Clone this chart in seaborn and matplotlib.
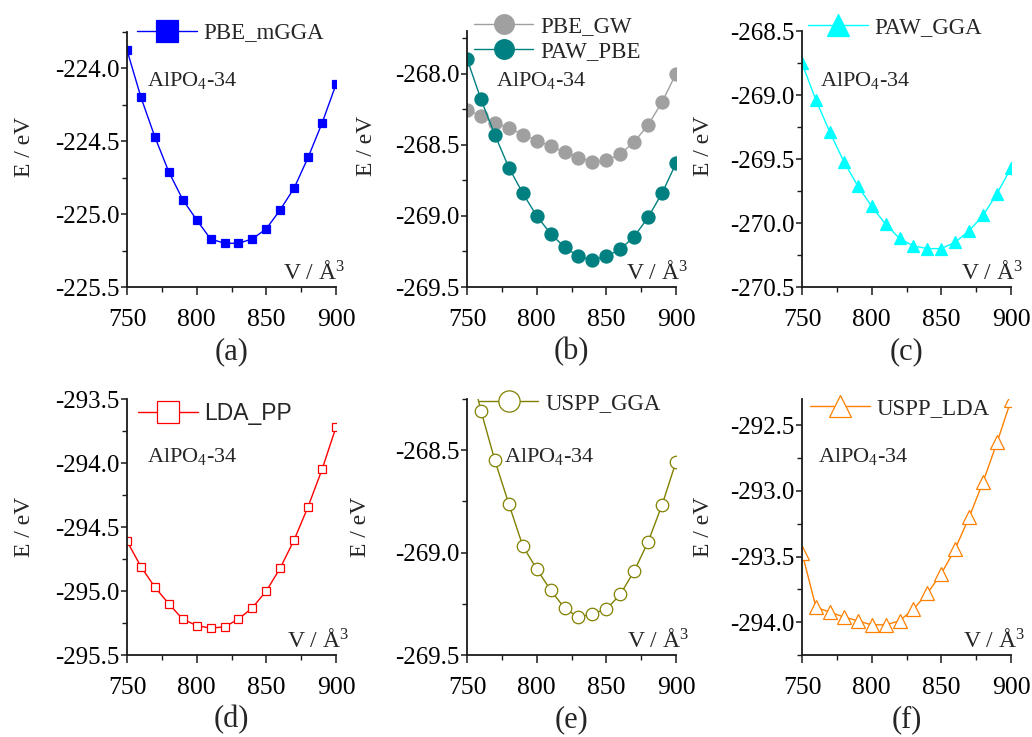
import matplotlib
matplotlib.use("Agg")
import matplotlib.pyplot as plt
from matplotlib.ticker import MultipleLocator, FormatStrFormatter
import seaborn as sns
import numpy as np

# ---------------- data ----------------
volume = [750, 760, 770, 780, 790, 800, 810, 820, 830, 840, 850, 860, 870, 880, 890, 900]

pbe_mgga = [-223.874, -224.198, -224.47, -224.71, -224.90, -225.04, -225.17, -225.20,
            -225.20, -225.17, -225.10, -224.97, -224.82, -224.61, -224.375, -224.11]

pbe_gw = [-268.253, -268.298, -268.35, -268.38, -268.43, -268.47, -268.51, -268.55,
          -268.59, -268.62, -268.61, -268.565, -268.48, -268.36, -268.20, -268.00]

paw_pbe = [-267.895, -268.18, -268.43, -268.66, -268.84, -269.00, -269.125, -269.22,
           -269.285, -269.31, -269.285, -269.235, -269.145, -269.01, -268.84, -268.63]

paw_gga = [-268.753, -269.04, -269.29, -269.52, -269.71, -269.87, -270.01, -270.12,
           -270.18, -270.20, -270.20, -270.15, -270.06, -269.94, -269.77, -269.57]

lda_pp = [-294.61, -294.81, -294.97, -295.10, -295.22, -295.27, -295.29, -295.28,
          -295.22, -295.13, -295.00, -294.82, -294.60, -294.34, -294.05, -293.72]

uspp_gga = [-268.03, -268.307, -268.55, -268.762, -268.967, -269.08, -269.183, -269.271,
            -269.316, -269.298, -269.277, -269.204, -269.09, -268.947, -268.767, -268.557]

uspp_lda = [-293.47, -293.886, -293.924, -293.96, -293.99, -294.02, -294.02, -293.99,
            -293.90, -293.78, -293.63, -293.44, -293.20, -292.93, -292.63, -292.31]

panel_labels = ["(a)", "(b)", "(c)", "(d)", "(e)", "(f)"]
compound = "AlPO$_4$-34"
xlabel_text = "V / Å$^3$"
ylabel_text = "E / eV"

# ---------------- style ----------------
sns.set_theme(style="ticks")
plt.rcParams["font.family"] = ["Liberation Serif", "DejaVu Serif"]
plt.rcParams["mathtext.fontset"] = "custom"
plt.rcParams["mathtext.rm"] = "Liberation Serif"
plt.rcParams["mathtext.it"] = "Liberation Serif:italic"
plt.rcParams["mathtext.bf"] = "Liberation Serif:bold"
plt.rcParams["axes.unicode_minus"] = False

W, H = 1032, 737
fig = plt.figure(figsize=(W / 100, H / 100), dpi=100)


def pos(l, r, t, b):
    return [l / W, 1 - b / H, (r - l) / W, (b - t) / H]


panels = [
    dict(rect=pos(127, 336, 32, 287), ylim=(-225.5, -223.75),
         series=[(pbe_mgga, "PBE_mGGA", "#0000FF", "s", 6.0, True)],
         mscale=2.6, leg=(0.048, 0.996), ann=(0.096, 0.788), vx=(0.746, 0.031),
         sans=False, ylab=(-0.44, 0.55)),
    dict(rect=pos(467, 676, 31, 287), ylim=(-269.5, -267.7),
         series=[(pbe_gw, "PBE_GW", "#A0A0A0", "o", 9.4, True),
                 (paw_pbe, "PAW_PBE", "#008080", "o", 9.4, True)],
         mscale=1.5, leg=(0.033, 0.969), ann=(0.139, 0.784), vx=(0.759, 0.031),
         sans=False, ylab=(-0.43, 0.55)),
    dict(rect=pos(802, 1011, 31, 287), ylim=(-270.5, -268.5),
         series=[(paw_gga, "PAW_GGA", "#00FFFF", "^", 8.6, True)],
         mscale=1.8, leg=(0.029, 1.015), ann=(0.086, 0.785), vx=(0.761, 0.030),
         sans=False, ylab=(-0.42, 0.55)),
    dict(rect=pos(127, 336, 399, 655), ylim=(-295.5, -293.5),
         series=[(lda_pp, "LDA_PP", "#FF0000", "s", 5.3, False)],
         mscale=3.0, leg=(0.053, 0.945), ann=(0.096, 0.755), vx=(0.766, 0.032),
         sans=True, ylab=(-0.44, 0.5)),
    dict(rect=pos(467, 676, 399, 655), ylim=(-269.5, -268.25),
         series=[(uspp_gga, "USPP_GGA", "#808000", "o", 9.0, False)],
         mscale=1.7, leg=(0.057, 0.984), ann=(0.177, 0.755), vx=(0.766, 0.032),
         sans=False, ylab=(-0.46, 0.5)),
    dict(rect=pos(802, 1011, 399, 655), ylim=(-294.25, -292.3),
         series=[(uspp_lda, "USPP_LDA", "#FF8000", "^", 9.4, False)],
         mscale=1.7, leg=(0.038, 0.962), ann=(0.077, 0.755), vx=(0.77, 0.031),
         sans=False, ylab=(-0.42, 0.5)),
]

for i, p in enumerate(panels):
    ax = fig.add_axes(p["rect"])
    for vals, lab, col, mk, ms, filled in p["series"]:
        sns.lineplot(x=volume, y=vals, ax=ax, color=col, marker=mk, markersize=ms,
                     markeredgecolor=col, markerfacecolor=(col if filled else "white"),
                     markeredgewidth=0.9, linewidth=1.0, label=lab, sort=False)
    ax.set_xlim(750, 900)
    ax.set_ylim(*p["ylim"])
    ax.xaxis.set_major_locator(MultipleLocator(50))
    ax.xaxis.set_minor_locator(MultipleLocator(25))
    ax.yaxis.set_major_locator(MultipleLocator(0.5))
    ax.yaxis.set_minor_locator(MultipleLocator(0.25))
    ax.yaxis.set_major_formatter(FormatStrFormatter("%.1f"))
    for s in ["top", "right"]:
        ax.spines[s].set_visible(False)
    for s in ["left", "bottom"]:
        ax.spines[s].set_linewidth(1.3)
        ax.spines[s].set_color("#1a1a1a")
    ax.tick_params(axis="x", which="major", direction="out", length=6, width=1.1,
                   labelsize=18.5, pad=10, colors="#1a1a1a", labelcolor="black")
    ax.tick_params(axis="x", which="minor", direction="out", length=3.5, width=1.0, colors="#1a1a1a")
    ax.tick_params(axis="y", which="major", direction="out", length=4, width=1.1,
                   labelsize=18, pad=1.5, colors="#1a1a1a", labelcolor="black")
    ax.tick_params(axis="y", which="minor", direction="out", length=3.5, width=1.0, colors="#1a1a1a")
    ax.set_xlabel("")
    ax.set_ylabel(ylabel_text, fontsize=17)
    ax.yaxis.set_label_coords(*p["ylab"])

    prop = {"family": "Liberation Sans" if p["sans"] else "Liberation Serif", "size": 16.5}
    ax.legend(loc="center left", bbox_to_anchor=p["leg"], frameon=False, prop=prop,
              markerscale=p["mscale"], handlelength=2.6, handletextpad=0.3,
              borderpad=0, borderaxespad=0, labelspacing=0.2)

    ax.text(p["ann"][0], p["ann"][1], compound, transform=ax.transAxes,
            fontsize=16, va="baseline", ha="left")
    ax.text(p["vx"][0], p["vx"][1], xlabel_text, transform=ax.transAxes,
            fontsize=17, va="baseline", ha="left", clip_on=False)

    r = p["rect"]
    ycen = 352 if i < 3 else 720
    fig.text(r[0] + r[2] / 2, 1 - ycen / H, panel_labels[i], fontsize=22, ha="center", va="center")

fig.savefig("out.png", dpi=100)
